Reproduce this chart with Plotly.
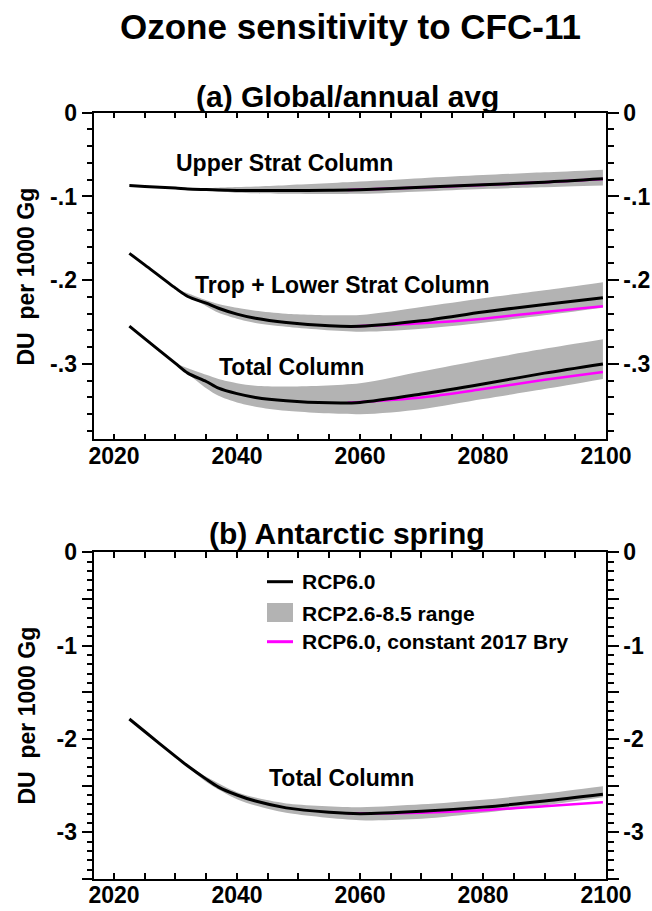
import plotly.graph_objects as go

# ---------------- data ----------------
# (a) Global/annual average, DU per 1000 Gg
yr_a = [2022.5, 2025, 2030, 2032, 2035, 2037, 2040, 2043, 2048, 2055, 2060, 2070, 2080, 2090, 2099.5]
upper_rcp60 = [-0.0869, -0.0880, -0.0900, -0.0910, -0.0918, -0.0923, -0.0928, -0.0930, -0.0930, -0.0926,
               -0.0920, -0.0890, -0.0860, -0.0830, -0.0790]
trop_rcp60 = [-0.168, -0.1817, -0.2095, -0.2195, -0.2275, -0.2335, -0.2405, -0.2455, -0.2505, -0.2545,
              -0.2550, -0.2485, -0.2380, -0.2290, -0.2210]
total_rcp60 = [-0.2548, -0.2697, -0.2994, -0.311, -0.321, -0.329, -0.3355, -0.340, -0.344, -0.3465,
               -0.346, -0.336, -0.324, -0.311, -0.300]

yr_a_bry = [2058, 2070, 2080, 2090, 2099.5]
upper_bry = [-0.0922, -0.0892, -0.0862, -0.0832, -0.0793]
trop_bry = [-0.2555, -0.2515, -0.2460, -0.2380, -0.2310]
total_bry = [-0.3465, -0.340, -0.330, -0.319, -0.3095]

yr_band = [2030, 2035, 2037, 2040, 2043, 2048, 2060, 2070, 2080, 2090, 2099.5]
upper_hi = [-0.0898, -0.0900, -0.0895, -0.0888, -0.0880, -0.0865, -0.0822, -0.0782, -0.0745, -0.0712, -0.0680]
upper_lo = [-0.0902, -0.0925, -0.0940, -0.0955, -0.0962, -0.0968, -0.0968, -0.0940, -0.0910, -0.0890, -0.0870]
trop_hi = [-0.2100, -0.2240, -0.2285, -0.2330, -0.2365, -0.2400, -0.2415, -0.2320, -0.2215, -0.2120, -0.2024]
trop_lo = [-0.2100, -0.2310, -0.2390, -0.2460, -0.2510, -0.2555, -0.2615, -0.2580, -0.2508, -0.2420, -0.2330]
total_hi = [-0.2994, -0.313, -0.318, -0.323, -0.326, -0.327, -0.323, -0.309, -0.295, -0.282, -0.2706]
total_lo = [-0.2994, -0.329, -0.338, -0.346, -0.351, -0.356, -0.360, -0.354, -0.342, -0.330, -0.318]

# (b) Antarctic spring total column
yr_b = [2022.5, 2025, 2030, 2032, 2035, 2037, 2040, 2043, 2048, 2055, 2060, 2070, 2080, 2090, 2099.5]
ant_rcp60 = [-1.786, -1.920, -2.187, -2.290, -2.430, -2.515, -2.600, -2.665, -2.738, -2.785, -2.800,
             -2.775, -2.730, -2.665, -2.592]
yr_b_bry = [2058, 2070, 2080, 2090, 2099.5]
ant_bry = [-2.797, -2.790, -2.763, -2.720, -2.678]
yr_b_band = [2031, 2035, 2040, 2043, 2048, 2060, 2070, 2080, 2090, 2099.5]
ant_hi = [-2.235, -2.405, -2.570, -2.628, -2.690, -2.730, -2.700, -2.650, -2.585, -2.507]
ant_lo = [-2.240, -2.460, -2.645, -2.712, -2.790, -2.870, -2.855, -2.790, -2.712, -2.625]

# tick labels
yticks_a = [0, -0.1, -0.2, -0.3]
ylabels_a = ["0", "-.1", "-.2", "-.3"]
yticks_b = [0, -0.5, -1, -1.5, -2, -2.5, -3, -3.5]
ylabels_b = ["0", "", "-1", "", "-2", "", "-3", ""]

legend_labels = ["RCP6.0", "RCP2.6-8.5 range", "RCP6.0, constant 2017 Bry"]

# ---------------- style ----------------
W, H = 652, 911
FONT = "Liberation Sans"
BLACK = "#000000"
GREY = "rgb(179,179,179)"
MAGENTA = "#ff00ff"
SMOOTH = 0.8

fig = go.Figure()


def band(x, hi, lo, xa, ya):
    fig.add_trace(go.Scatter(x=x, y=hi, mode="lines", line=dict(width=0, shape="spline", smoothing=SMOOTH),
                             xaxis=xa, yaxis=ya, showlegend=False, hoverinfo="skip"))
    fig.add_trace(go.Scatter(x=x, y=lo, mode="lines", line=dict(width=0, shape="spline", smoothing=SMOOTH),
                             fill="tonexty", fillcolor=GREY,
                             xaxis=xa, yaxis=ya, showlegend=False, hoverinfo="skip"))


def line(x, y, color, width, xa, ya):
    fig.add_trace(go.Scatter(x=x, y=y, mode="lines",
                             line=dict(color=color, width=width, shape="spline", smoothing=SMOOTH),
                             xaxis=xa, yaxis=ya, showlegend=False))


# panel (a)
band(yr_band, upper_hi, upper_lo, "x", "y")
band(yr_band, trop_hi, trop_lo, "x", "y")
band(yr_band, total_hi, total_lo, "x", "y")
line(yr_a_bry, upper_bry, MAGENTA, 2.5, "x", "y")
line(yr_a_bry, trop_bry, MAGENTA, 2.5, "x", "y")
line(yr_a_bry, total_bry, MAGENTA, 2.5, "x", "y")
line(yr_a, upper_rcp60, BLACK, 3, "x", "y2")
line(yr_a, trop_rcp60, BLACK, 3, "x", "y2")
line(yr_a, total_rcp60, BLACK, 3, "x", "y2")

# panel (b)
band(yr_b_band, ant_hi, ant_lo, "x2", "y3")
line(yr_b_bry, ant_bry, MAGENTA, 2.5, "x2", "y3")
line(yr_b, ant_rcp60, BLACK, 3, "x2", "y4")

# ---------------- axes ----------------
xdom = [94.3 / W, 606 / W]
ydom_a = [1 - 439.3 / H, 1 - 112.7 / H]
ydom_b = [1 - 879 / H, 1 - 552.3 / H]
tickfont = dict(family=FONT, size=23, color=BLACK, weight="bold")

xcommon = dict(domain=xdom, range=[2016.8, 2100], tickvals=[2020, 2040, 2060, 2080, 2100],
               ticks="inside", ticklen=6, tickwidth=1.5, tickcolor=BLACK, ticklabelstandoff=-5,
               minor=dict(dtick=5, tick0=2020, ticks="inside", ticklen=4, tickwidth=1.5, tickcolor=BLACK),
               showline=True, linecolor=BLACK, linewidth=1.5, mirror="allticks",
               showgrid=False, zeroline=False, tickfont=tickfont, automargin=False)


def yaxis(dom, rng, tv, tt, mdt, anchor, side, overlay=None):
    d = dict(domain=dom, range=rng, tickvals=tv, ticktext=tt, anchor=anchor, side=side,
             ticks="outside", ticklen=11, tickwidth=1.5, tickcolor=BLACK,
             minor=dict(dtick=mdt, tick0=0, ticks="outside", ticklen=6, tickwidth=1.5, tickcolor=BLACK),
             showline=True, linecolor=BLACK, linewidth=1.5, mirror=False,
             showgrid=False, zeroline=False, tickfont=tickfont, automargin=False)
    if overlay:
        d["overlaying"] = overlay
    return d


fig.update_layout(
    width=W, height=H, margin=dict(l=0, r=0, t=0, b=0, autoexpand=False),
    paper_bgcolor="white", plot_bgcolor="white", showlegend=False,
    xaxis=dict(anchor="y", **xcommon),
    xaxis2=dict(anchor="y3", **xcommon),
    yaxis=yaxis(ydom_a, [-0.39, 0], yticks_a, ylabels_a, 0.02, "x", "left"),
    yaxis2=yaxis(ydom_a, [-0.39, 0], yticks_a, ylabels_a, 0.02, "x", "right", "y"),
    yaxis3=yaxis(ydom_b, [-3.5, 0], yticks_b, ylabels_b, 0.1, "x2", "left"),
    yaxis4=yaxis(ydom_b, [-3.5, 0], yticks_b, ylabels_b, 0.1, "x2", "right", "y3"),
)

# ---------------- text ----------------
ann = []


def ptext(x, y, text, size, xanchor="center", **kw):
    ann.append(dict(x=x / W, y=1 - y / H, xref="paper", yref="paper", text=text, showarrow=False,
                    xanchor=xanchor, yanchor="middle",
                    font=dict(family=FONT, size=size, color=BLACK, weight="bold"), **kw))


ptext(350, 27, "Ozone sensitivity to CFC-11", 35)
ptext(347, 97, "(a) Global/annual avg", 30)
ptext(347, 533, "(b) Antarctic spring", 30)
ptext(26, 276.5, "DU\u00a0\u00a0per 1000 Gg", 23, textangle=-90)
ptext(26, 715.5, "DU\u00a0\u00a0per 1000 Gg", 23, textangle=-90)


def dtext(x, y, text, xr, yr):
    ann.append(dict(x=x, y=y, xref=xr, yref=yr, text=text, showarrow=False,
                    xanchor="center", yanchor="middle",
                    font=dict(family=FONT, size=23, color=BLACK, weight="bold")))


dtext(2047.7, -0.060, "Upper Strat Column", "x", "y")
dtext(2057.2, -0.206, "Trop + Lower Strat Column", "x", "y")
dtext(2048.9, -0.304, "Total Column", "x", "y")
dtext(2057.0, -2.414, "Total Column", "x2", "y3")

# legend (panel b)
leg_y = [581.7, 613.3, 641.7]
for lbl, yy in zip(legend_labels, leg_y):
    ptext(300, yy, lbl, 21, xanchor="left")

shapes = [
    dict(type="line", xref="paper", yref="paper", x0=267 / W, x1=293 / W,
         y0=1 - leg_y[0] / H, y1=1 - leg_y[0] / H, line=dict(color=BLACK, width=3)),
    dict(type="rect", xref="paper", yref="paper", x0=267 / W, x1=293 / W,
         y0=1 - 622 / H, y1=1 - 603 / H, fillcolor=GREY, line=dict(width=0)),
    dict(type="line", xref="paper", yref="paper", x0=267 / W, x1=293 / W,
         y0=1 - leg_y[2] / H, y1=1 - leg_y[2] / H, line=dict(color=MAGENTA, width=3)),
]

fig.update_layout(annotations=ann, shapes=shapes)
fig.write_html("out.html")
